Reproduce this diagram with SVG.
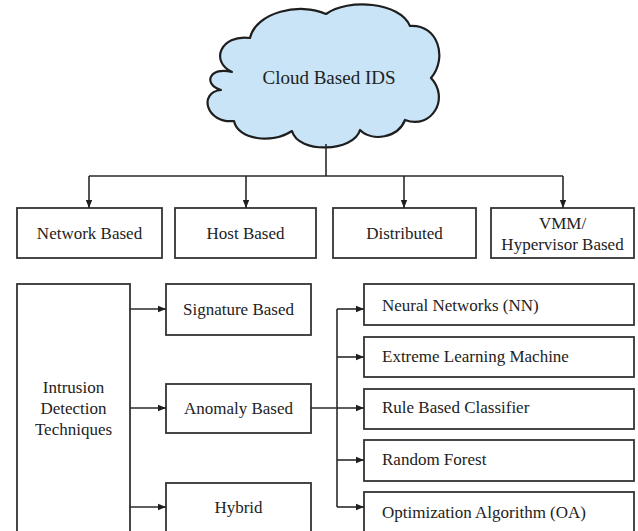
<svg xmlns="http://www.w3.org/2000/svg" width="638" height="531" viewBox="0 0 638 531">
  <style>
    .box { fill: #ffffff; stroke: #333333; stroke-width: 1.8; }
    .cloud { fill: #c8e4f6; stroke: #1e1e1e; stroke-width: 2.2; stroke-linejoin: round; }
    .lbl { font-size: 17px; fill: #222222; }
    .mid { text-anchor: middle; }
    .big { font-size: 19px; }
    .wire { fill: none; stroke: #2a2a2a; stroke-width: 1.6; }
    .arr { marker-end: url(#head); }
  </style>
  <defs>
    <marker id="head" viewBox="0 0 10 10" refX="10" refY="5" markerWidth="8" markerHeight="8" markerUnits="userSpaceOnUse" orient="auto">
      <path d="M0,1 L10,5 L0,9 Z" fill="#1e1e1e"/>
    </marker>
  </defs>

  <rect x="0" y="0" width="638" height="531" fill="#ffffff"/>

  <g font-family="Liberation Serif, Times New Roman, serif">
  <!-- root cloud -->
  <g id="cloud-ids">
    <path class="cloud" d="M 232,72 C 210,62 220,34 250,38 C 256,12 300,2 326,14 C 348,-2 400,2 410,26 C 438,24 448,58 431,78 C 450,98 432,130 405,120 C 398,138 372,142 360,130 C 354,152 298,154 292,131 C 272,144 238,140 234,121 C 206,124 198,92 221,90 C 202,84 210,66 232,72 Z"/>
    <text class="lbl big mid" x="329" y="84">Cloud Based IDS</text>
  </g>

  <!-- deployment types -->
  <g id="network-based">
    <rect class="box" x="17" y="208" width="145" height="50"/>
    <text class="lbl mid" x="89.5" y="239">Network Based</text>
  </g>
  <g id="host-based">
    <rect class="box" x="175" y="208" width="141" height="50"/>
    <text class="lbl mid" x="245.5" y="239">Host Based</text>
  </g>
  <g id="distributed">
    <rect class="box" x="333" y="208" width="143" height="50"/>
    <text class="lbl mid" x="404.5" y="239">Distributed</text>
  </g>
  <g id="vmm-based">
    <rect class="box" x="491" y="208" width="143" height="50"/>
    <text class="lbl mid" x="562.5" y="229">VMM/</text>
    <text class="lbl mid" x="562.5" y="250">Hypervisor Based</text>
  </g>

  <!-- detection techniques -->
  <g id="techniques">
    <rect class="box" x="17" y="284" width="113" height="260"/>
    <text class="lbl mid" x="73.5" y="393">Intrusion</text>
    <text class="lbl mid" x="73.5" y="414">Detection</text>
    <text class="lbl mid" x="73.5" y="435">Techniques</text>
  </g>
  <g id="signature-based">
    <rect class="box" x="166" y="284" width="145" height="51"/>
    <text class="lbl mid" x="238.5" y="315">Signature Based</text>
  </g>
  <g id="anomaly-based">
    <rect class="box" x="166" y="384" width="145" height="49"/>
    <text class="lbl mid" x="238.5" y="414">Anomaly Based</text>
  </g>
  <g id="hybrid">
    <rect class="box" x="166" y="483" width="145" height="60"/>
    <text class="lbl mid" x="238.5" y="513">Hybrid</text>
  </g>

  <!-- anomaly methods -->
  <g id="neural-networks">
    <rect class="box" x="364" y="284" width="270" height="41"/>
    <text class="lbl" x="382" y="311">Neural Networks (NN)</text>
  </g>
  <g id="elm">
    <rect class="box" x="364" y="337" width="270" height="40"/>
    <text class="lbl" x="382" y="362">Extreme Learning Machine</text>
  </g>
  <g id="rule-based">
    <rect class="box" x="364" y="389" width="270" height="40"/>
    <text class="lbl" x="382" y="413">Rule Based Classifier</text>
  </g>
  <g id="random-forest">
    <rect class="box" x="364" y="440" width="270" height="41"/>
    <text class="lbl" x="382" y="465">Random Forest</text>
  </g>
  <g id="optimization">
    <rect class="box" x="364" y="492" width="270" height="50"/>
    <text class="lbl" x="382" y="518">Optimization Algorithm (OA)</text>
  </g>
  </g>

  <!-- connectors -->
  <g id="connectors">
    <path class="wire" d="M326,144 V176 M89,176 H563"/>
    <path class="wire arr" d="M89,176 V208"/>
    <path class="wire arr" d="M246,176 V208"/>
    <path class="wire arr" d="M404,176 V208"/>
    <path class="wire arr" d="M563,176 V208"/>

    <path class="wire arr" d="M130,309 H166"/>
    <path class="wire arr" d="M130,408 H166"/>
    <path class="wire arr" d="M130,507 H166"/>

    <path class="wire" d="M337,309 V507"/>
    <path class="wire arr" d="M337,309 H364"/>
    <path class="wire arr" d="M337,357 H364"/>
    <path class="wire arr" d="M311,408 H364"/>
    <path class="wire arr" d="M337,460 H364"/>
    <path class="wire arr" d="M337,507 H364"/>
  </g>
</svg>
